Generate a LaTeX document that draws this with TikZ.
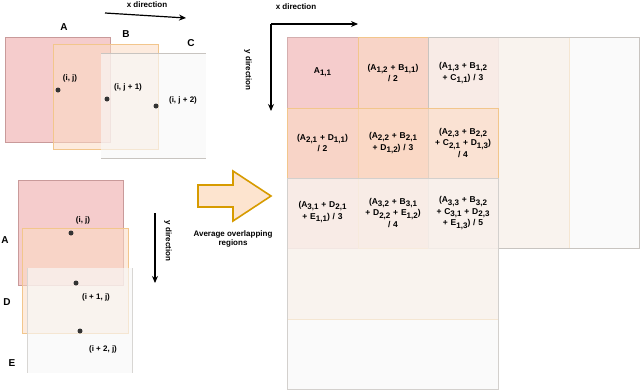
\documentclass[tikz,border=0pt]{standalone}
\usepackage{fontspec}
\setmainfont{Liberation Sans}
\usetikzlibrary{arrows.meta}
\definecolor{pinkf}{HTML}{F5CCCC}
\definecolor{pinkd}{HTML}{C99A9A}
\definecolor{peachf}{HTML}{FCDCC4}
\definecolor{peachd}{HTML}{F2C68C}
\definecolor{grayf}{HTML}{F8F8F8}
\definecolor{grayd}{HTML}{C8C4C0}
\definecolor{arrowf}{HTML}{FDE4CF}
\definecolor{arrowd}{HTML}{D79B00}
\definecolor{dotc}{HTML}{333333}
\newcommand{\sbs}[1]{\raisebox{-2.2pt}{\fontsize{8}{8}\selectfont #1}}
\begin{document}
\begin{tikzpicture}[x=1pt,y=-1pt,
  lbl/.style={font=\fontsize{10}{11}\selectfont\bfseries},
  small/.style={font=\fontsize{8}{9}\selectfont\bfseries},
  cell/.style={font=\fontsize{8.5}{11.5}\selectfont\bfseries, align=center, text width=68pt, inner sep=0pt},
  dot/.style={circle, fill=dotc, inner sep=0pt, minimum size=5pt},
  dirarrow/.style={-{Stealth[length=7pt,width=6pt]}, line width=1.2pt, black},
  box/.style={inner sep=0pt, anchor=north west, minimum width=105pt, minimum height=105pt},
  layA/.style={box, fill=pinkf, draw=pinkd, line width=0.8pt},
  layB/.style={box, fill=peachf, fill opacity=0.55, draw=peachd, line width=0.8pt},
  layC/.style={box, fill=grayf, fill opacity=0.65},
  gbox/.style={inner sep=0pt, anchor=north west, minimum width=211pt, minimum height=211pt, line width=0.8pt}
]
\useasboundingbox (0,0) rectangle (640,389);
\fill[white] (0,0) rectangle (640,389);

% ---------- top-left group (x direction) ----------
\node[layA] (tA) at (5,37) {};
\node[layB] (tB) at (53,44) {};
\node[layC] (tC) at (101,53) {};
\draw[grayd, line width=0.8pt] (tC.north west) -- (tC.north east);
\draw[grayd, line width=0.8pt] (tC.south west) -- (tC.south east);
\node[lbl] (ltA) at (64,27) {A};
\node[lbl] (ltB) at (126,34) {B};
\node[lbl] (ltC) at (191,43) {C};
\node[dot] (d1) at (58,90) {};
\node[dot] (d2) at (107,99) {};
\node[dot] (d3) at (156,106) {};
\node[small] (t1) at (70,78) {(i, j)};
\node[small] (t2) at (128,87) {(i, j + 1)};
\node[small] (t3) at (183,100) {(i, j + 2)};
\coordinate (xa1) at (105,13);
\coordinate (xa2) at (186,18);
\draw[dirarrow] (xa1) -- (xa2);
\node[small] (xlab1) at (147,5) {x direction};

% ---------- bottom-left group (y direction) ----------
\node[layA] (bA) at (18,180) {};
\node[layB, minimum width=106pt] (bD) at (22,228) {};
\node[layC] (bE) at (27,268) {};
\draw[grayd!70, line width=0.8pt] (bE.north west) -- (bE.south west);
\draw[grayd!70, line width=0.8pt] (bE.north east) -- (bE.south east);
\node[lbl] (lbA) at (5,240) {A};
\node[lbl] (lbD) at (7,302) {D};
\node[lbl] (lbE) at (12,363) {E};
\node[dot] (e1) at (71,233) {};
\node[dot] (e2) at (76,283) {};
\node[dot] (e3) at (80,331) {};
\node[small] (s1) at (83,220) {(i, j)};
\node[small] (s2) at (96,297) {(i + 1, j)};
\node[small] (s3) at (103,349) {(i + 2, j)};
\coordinate (ya1) at (155,213);
\coordinate (ya2) at (155,283);
\draw[dirarrow] (ya1) -- (ya2);
\node[small, rotate=-90] (ylab1) at (168,241) {y direction};

% ---------- big arrow ----------
\draw[fill=arrowf, draw=arrowd, line width=1.6pt, line join=miter]
  (198,185) -- (233,185) -- (233,171) -- (271,196) -- (233,221) -- (233,207) -- (198,207) -- cycle;
\node[small, align=center] (avg) at (233,239) {Average overlapping\\regions};

% ---------- right grid ----------
\node[gbox, fill=pinkf, draw=pinkd!80] (gA) at (287,37) {};
\node[gbox, fill=peachf, fill opacity=0.55, draw=peachd] (gB) at (357.5,37) {};
\node[gbox, fill=grayf, fill opacity=0.65, draw=grayd] (gC) at (428,37) {};
\node[gbox, fill=peachf, fill opacity=0.55, draw=peachd] (gD) at (287,107.5) {};
\node[gbox, fill=grayf, fill opacity=0.65, draw=grayd!80] (gE) at (287,178) {};

\coordinate (gcorner) at (271,24);
\coordinate (gx) at (358,24);
\coordinate (gy) at (271,111);
\draw[dirarrow] (gcorner) -- (gx);
\draw[dirarrow] (gcorner) -- (gy);
\node[small] (xlab2) at (296,7) {x direction};
\node[small, rotate=-90] (ylab2) at (248,70) {y direction};

\node[cell] (c11) at (322.5,72) {A\sbs{1,1}};
\node[cell] (c12) at (393,73) {(A\sbs{1,2} + B\sbs{1,1})\\/ 2};
\node[cell] (c13) at (463,73) {(A\sbs{1,3} + B\sbs{1,2}\\+ C\sbs{1,1}) / 3};
\node[cell] (c21) at (322.5,143) {(A\sbs{2,1} + D\sbs{1,1})\\/ 2};
\node[cell] (c22) at (393,143) {(A\sbs{2,2} + B\sbs{2,1}\\+ D\sbs{1,2}) / 3};
\node[cell] (c23) at (463,143) {(A\sbs{2,3} + B\sbs{2,2}\\+ C\sbs{2,1} + D\sbs{1,3})\\/ 4};
\node[cell] (c31) at (322.5,212) {(A\sbs{3,1} + D\sbs{2,1}\\+ E\sbs{1,1}) / 3};
\node[cell] (c32) at (393,213) {(A\sbs{3,2} + B\sbs{3,1}\\+ D\sbs{2,2} + E\sbs{1,2})\\/ 4};
\node[cell] (c33) at (463,213) {(A\sbs{3,3} + B\sbs{3,2}\\+ C\sbs{3,1} + D\sbs{2,3}\\+ E\sbs{1,3}) / 5};
\end{tikzpicture}
\end{document}
